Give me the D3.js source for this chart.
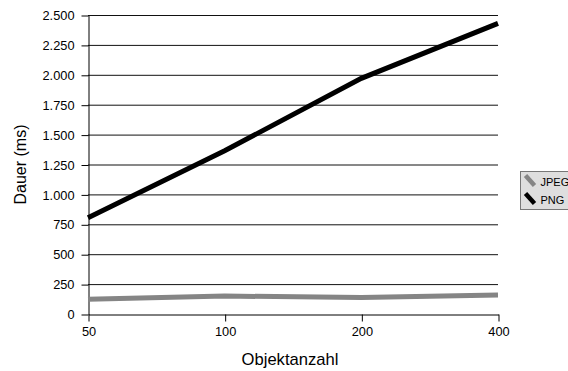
<!DOCTYPE html>
<html>
<head>
<meta charset="utf-8">
<title>Dauer</title>
<script src="https://d3js.org/d3.v7.min.js"></script>
<style>
  body { margin: 0; background: #fff; }
  text { font-family: "Liberation Sans", Arial, sans-serif; }
</style>
</head>
<body>
<div id="chart"></div>
<script>
// data
var categories = ["50", "100", "200", "400"]
var jpegValues = [123, 150, 138, 158]
var pngValues = [805, 1365, 1970, 2430]
var yTicks = [0, 250, 500, 750, 1000, 1250, 1500, 1750, 2000, 2250, 2500]
var seriesNames = ["JPEG", "PNG"]
var seriesColors = ["#858585", "#000000"]

var width = 568, height = 371
var margin = {top: 15, right: 70, bottom: 57, left: 88}

var svg = d3.select("#chart").append("svg")
    .attr("width", width)
    .attr("height", height)

var x = d3.scalePoint()
    .domain(categories)
    .range([margin.left, width - margin.right])

var y = d3.scaleLinear()
    .domain([0, 2500])
    .range([height - margin.bottom, margin.top])

var fmt = function(d) { return d3.format(",")(d).replace(/,/g, ".") }

// gridlines
svg.append("g")
  .selectAll("line")
  .data(yTicks.slice(1))
  .enter().append("line")
    .attr("x1", margin.left)
    .attr("x2", width - margin.right)
    .attr("y1", function(d) { return y(d) + 0.5 })
    .attr("y2", function(d) { return y(d) + 0.5 })
    .attr("stroke", "#111")
    .attr("stroke-width", 1)

// y axis
var yAxis = svg.append("g")
    .attr("transform", "translate(" + (margin.left + 0.5) + ",0.5)")
    .call(d3.axisLeft(y).tickValues(yTicks).tickFormat(fmt).tickSize(7).tickSizeOuter(0))
    .attr("font-size", 12.8)
    .attr("font-family", "Liberation Sans, Arial, sans-serif")
yAxis.select(".domain").attr("stroke", "#000")
yAxis.selectAll(".tick line").attr("stroke", "#000")
yAxis.selectAll(".tick text")
    .attr("x", -14)
    .attr("fill", "#000")

// x axis
var xAxis = svg.append("g")
    .attr("transform", "translate(0.5," + (y(0) + 0.5) + ")")
    .call(d3.axisBottom(x).tickSize(7).tickSizeOuter(0))
    .attr("font-size", 12.8)
    .attr("font-family", "Liberation Sans, Arial, sans-serif")
xAxis.select(".domain").attr("stroke", "#000")
xAxis.selectAll(".tick line").attr("stroke", "#000")
xAxis.selectAll(".tick text")
    .attr("y", 12)
    .attr("fill", "#000")

// lines
var line = d3.line()
    .x(function(d, i) { return x(categories[i]) })
    .y(function(d) { return y(d) })

svg.append("path")
    .datum(jpegValues)
    .attr("d", line)
    .attr("fill", "none")
    .attr("stroke", seriesColors[0])
    .attr("stroke-width", 5)

svg.append("path")
    .datum(pngValues)
    .attr("d", line)
    .attr("fill", "none")
    .attr("stroke", seriesColors[1])
    .attr("stroke-width", 5)

// axis titles
svg.append("text")
    .attr("transform", "translate(26," + ((margin.top + y(0)) / 2) + ") rotate(-90)")
    .attr("text-anchor", "middle")
    .style("font-size", "16px")
    .text("Dauer (ms)")

svg.append("text")
    .attr("x", 290)
    .attr("y", 365)
    .attr("text-anchor", "middle")
    .style("font-size", "16.6px")
    .text("Objektanzahl")

// legend
var legend = svg.append("g").attr("transform", "translate(520.5,171.5)")
legend.append("rect")
    .attr("width", 60)
    .attr("height", 38)
    .attr("fill", "#dedede")
    .attr("stroke", "#777")

seriesNames.forEach(function(name, i) {
  var g = legend.append("g").attr("transform", "translate(0," + (i * 18) + ")")
  g.append("line")
    .attr("x1", 5).attr("y1", 4)
    .attr("x2", 14).attr("y2", 14)
    .attr("stroke", seriesColors[i])
    .attr("stroke-width", 4.5)
  g.append("text")
    .attr("x", 20)
    .attr("y", 14)
    .style("font-size", "11px")
    .text(name)
})
</script>
</body>
</html>
